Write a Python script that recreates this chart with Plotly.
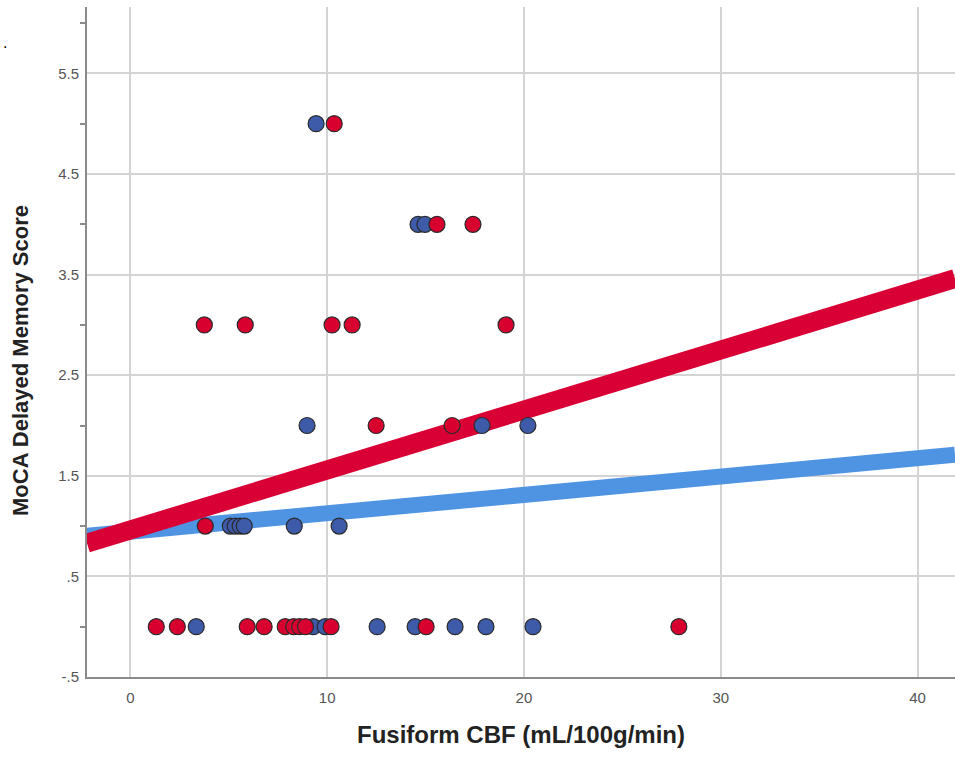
import plotly.graph_objects as go

# --- data ---
red_x = [1.32, 2.39, 5.94, 6.80, 7.87, 8.30, 8.60, 8.90, 10.20, 15.03, 27.87,
         3.81,
         12.49, 16.35,
         3.76, 5.84, 10.25, 11.27, 19.09,
         15.58, 17.41,
         10.36]
red_y = [0]*11 + [1] + [2]*2 + [3]*5 + [4]*2 + [5]

blue_x = [3.35, 9.29, 9.90, 12.54, 14.47, 16.50, 18.07, 20.46,
          5.08, 5.33, 5.58, 5.79, 8.33, 10.61,
          8.98, 17.87, 20.20,
          14.62, 14.97,
          9.44]
blue_y = [0]*8 + [1]*6 + [2]*3 + [4]*2 + [5]

fit_x = [-2.2, 41.9]
red_fit_y = [0.83, 3.46]
blue_fit_y = [0.905, 1.71]

ytick_vals = [-0.5, 0.5, 1.5, 2.5, 3.5, 4.5, 5.5]
ytick_text = ["-.5", ".5", "1.5", "2.5", "3.5", "4.5", "5.5"]
yminor_vals = [0, 1, 2, 3, 4, 5, 6]
xtick_vals = [0, 10, 20, 30, 40]

RED = "#D8002F"
BLUE = "#3E5BA9"
RED_LINE = "#D90036"
BLUE_LINE = "#4F93E3"

fig = go.Figure()
fig.add_trace(go.Scatter(x=fit_x, y=blue_fit_y, mode="lines",
                         line=dict(color=BLUE_LINE, width=16), hoverinfo="skip"))
fig.add_trace(go.Scatter(x=fit_x, y=red_fit_y, mode="lines",
                         line=dict(color=RED_LINE, width=19), hoverinfo="skip"))
fig.add_trace(go.Scatter(x=blue_x, y=blue_y, mode="markers",
                         marker=dict(color=BLUE, size=16, line=dict(color="#2a2a2a", width=1.2))))
fig.add_trace(go.Scatter(x=red_x, y=red_y, mode="markers",
                         marker=dict(color=RED, size=16, line=dict(color="#2a2a2a", width=1.2))))

PW, PH = 868, 670  # plot area in px (left 87, top 7)

fig.update_layout(
    width=955, height=760,
    margin=dict(l=87, r=0, t=7, b=83),
    plot_bgcolor="white", paper_bgcolor="white",
    showlegend=False,
    font=dict(family="Liberation Sans, Arial, sans-serif", color="#555555"),
    xaxis=dict(
        range=[-2.2, 41.9],
        tickvals=xtick_vals,
        showgrid=True, gridcolor="#d4d4d4", gridwidth=1.5,
        showline=True, linecolor="#8a8a8a", linewidth=2,
        zeroline=False, ticks="",
        ticklabelstandoff=6,
        tickfont=dict(size=15, color="#555555"),
        title=dict(text="<b>Fusiform CBF (mL/100g/min)</b>",
                   font=dict(size=24, color="#222222"), standoff=21),
    ),
    yaxis=dict(
        range=[-0.5, 6.16],
        tickvals=ytick_vals, ticktext=ytick_text,
        showgrid=True, gridcolor="#d4d4d4", gridwidth=1.5,
        showline=True, linecolor="#8a8a8a", linewidth=2,
        zeroline=False, ticks="",
        ticklabelstandoff=3,
        tickfont=dict(size=15, color="#555555"),
        minor=dict(tickvals=yminor_vals, ticks="outside", ticklen=5,
                   tickcolor="#8a8a8a", tickwidth=1.5, showgrid=False),
    ),
    annotations=[
        dict(text=".", xref="paper", yref="paper",
             x=(1 - 87) / PW, y=(677 - 42) / PH,
             showarrow=False, font=dict(size=16, color="black"),
             xanchor="left", yanchor="middle"),
        dict(text="<b>MoCA Delayed Memory Score</b>", xref="paper", yref="paper",
             x=(20 - 87) / PW, y=(677 - 361) / PH, textangle=-90,
             showarrow=False, font=dict(size=22, color="#222222"),
             xanchor="center", yanchor="middle"),
    ],
)

fig.write_html("out.html", post_script="document.body.style.margin='0';",
               config={"displayModeBar": False})
